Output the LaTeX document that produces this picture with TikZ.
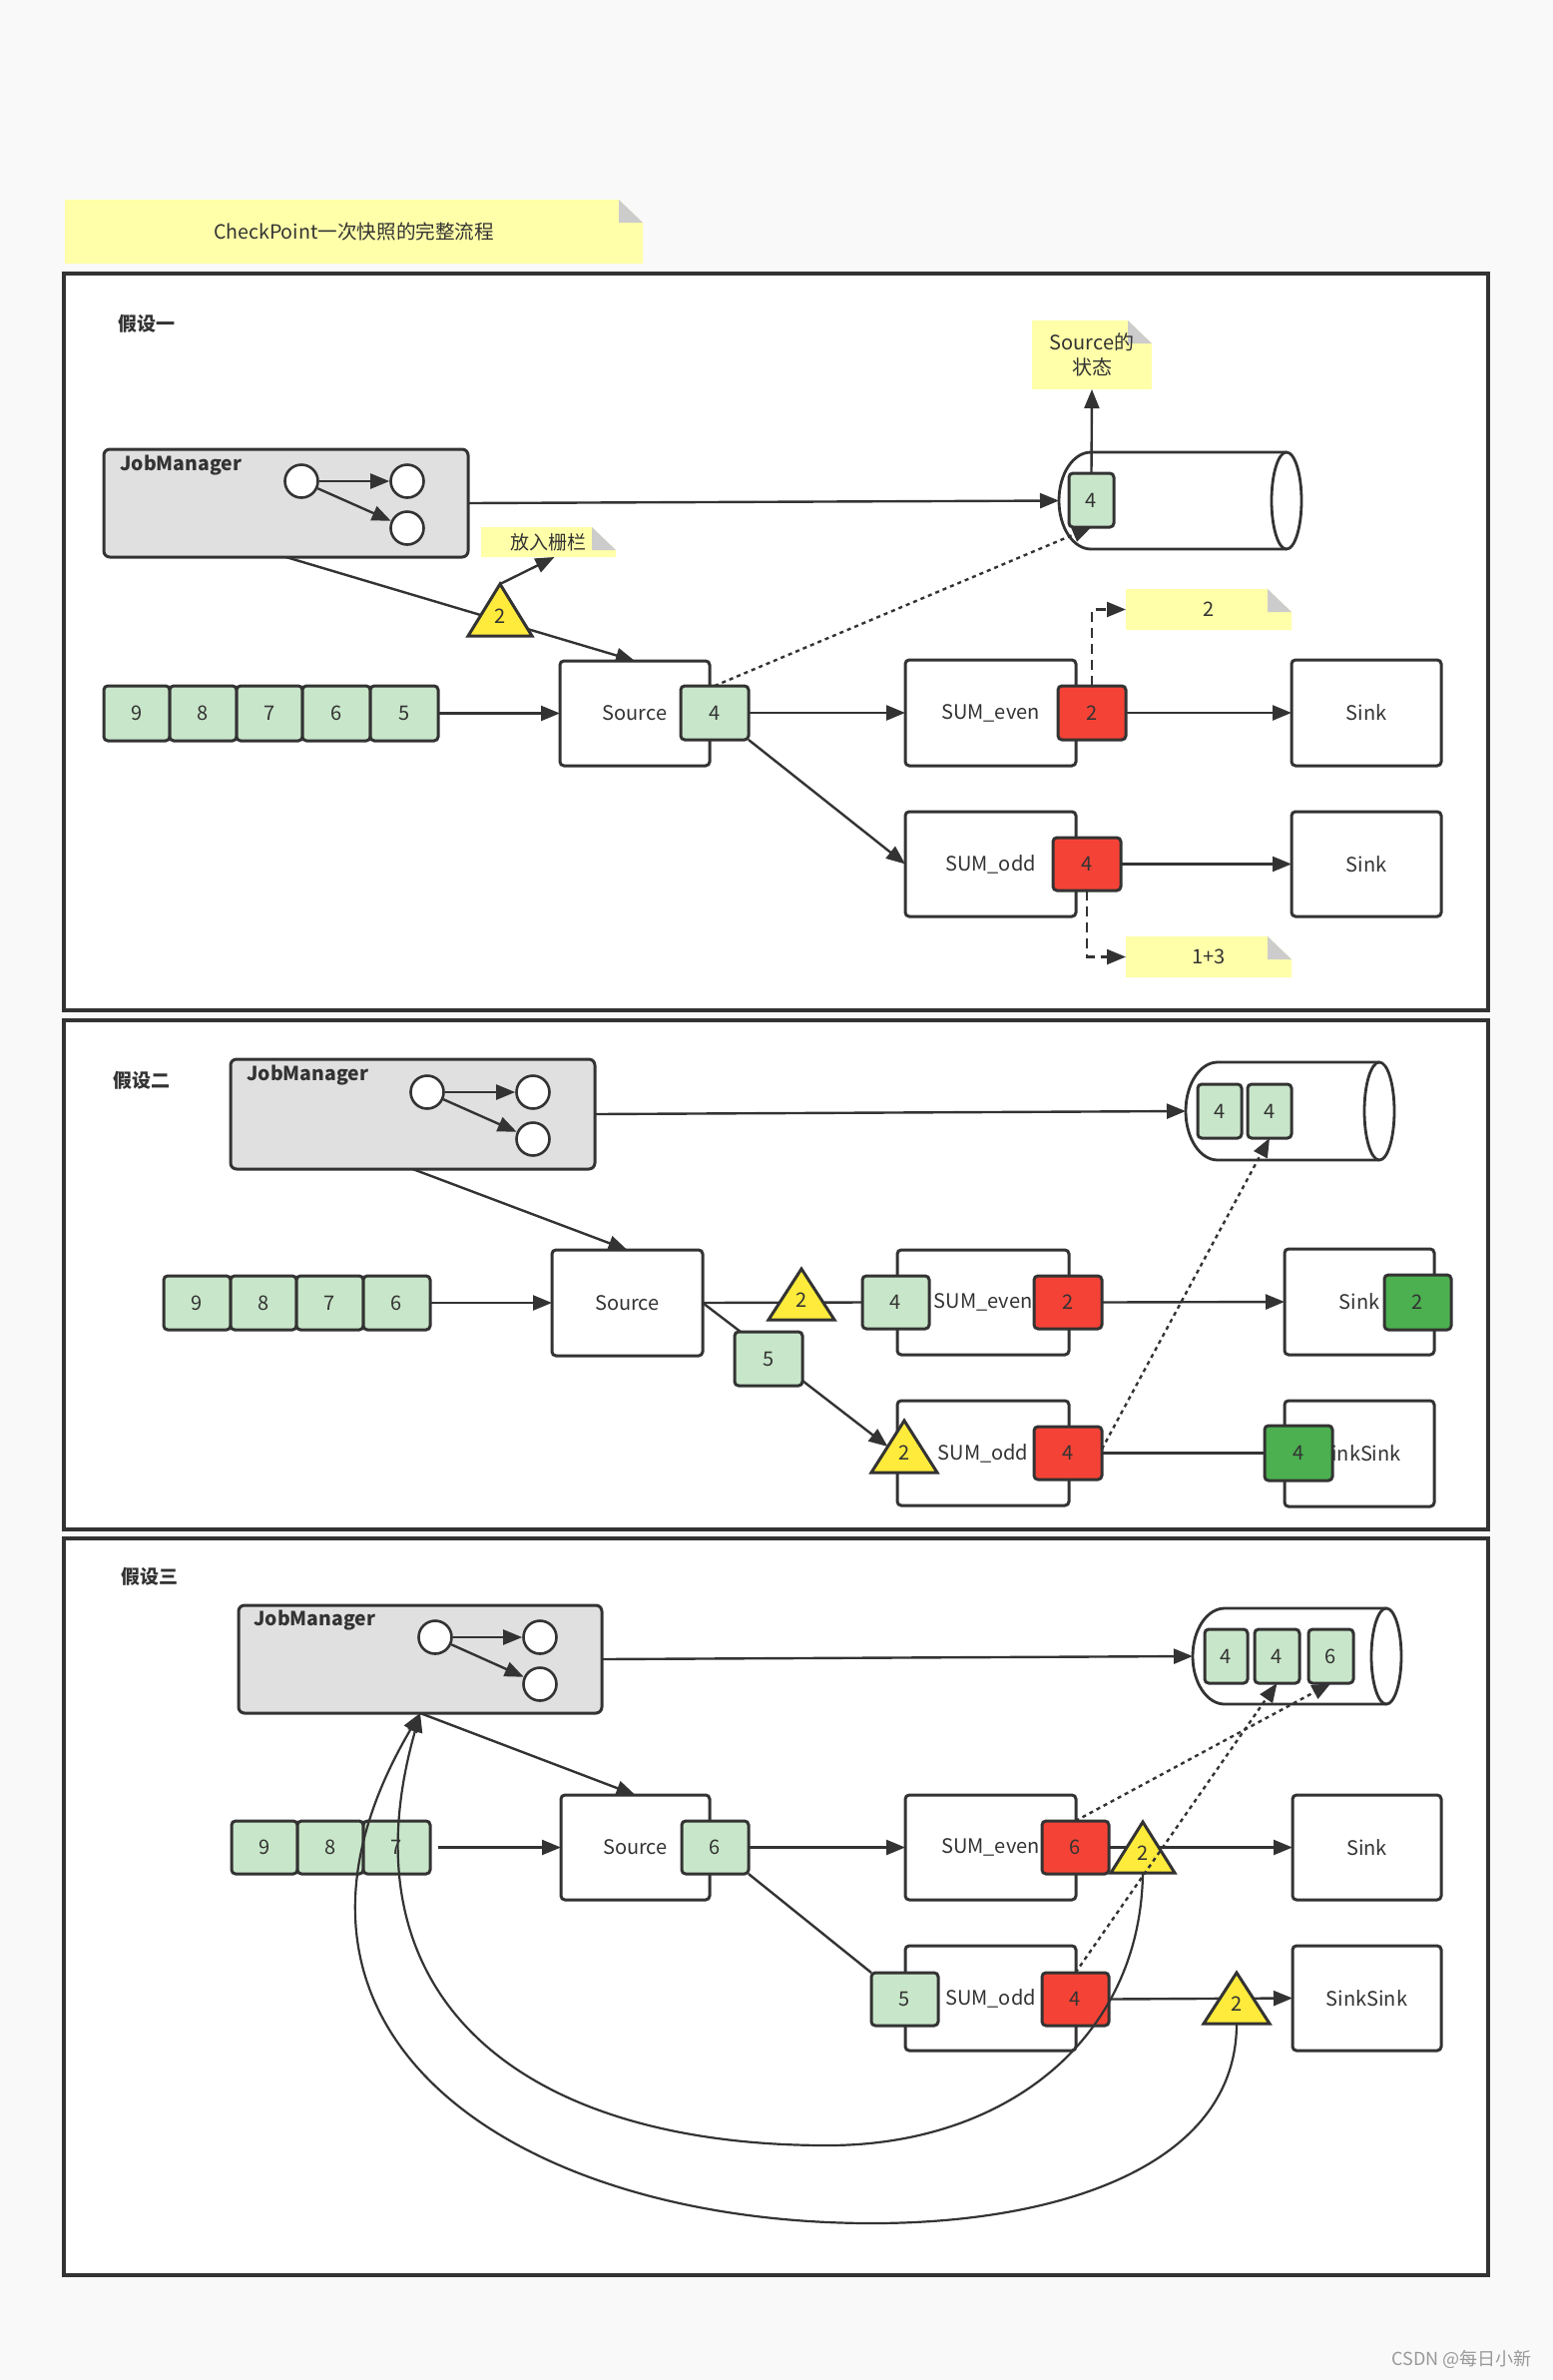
\documentclass[tikz,border=0pt]{standalone}
\usepackage{fontspec}
\setmainfont{Noto Sans CJK SC}
\usetikzlibrary{arrows.meta,calc}
\definecolor{linec}{HTML}{333333}
\definecolor{bgc}{HTML}{F9F9F9}
\definecolor{notey}{HTML}{FFFFAA}
\definecolor{foldg}{HTML}{CCCCCC}
\definecolor{lgreen}{HTML}{C8E6C9}
\definecolor{redc}{HTML}{F44336}
\definecolor{dgreen}{HTML}{4CAF50}
\definecolor{triy}{HTML}{FFEB3B}
\definecolor{jmgray}{HTML}{E0E0E0}
\definecolor{wmgray}{HTML}{999999}
\pgfdeclarelayer{back}
\pgfdeclarelayer{lines}
\pgfdeclarelayer{front}
\pgfsetlayers{back,lines,main,front}
\newcommand\boxat[7]{\node[#1, minimum width={(#5-#3)*0.5pt}, minimum height={(#6-#4)*0.5pt}] (#2) at ({(#3+#5)/2},{(#4+#6)/2}) {#7};}
\newcommand\notebox[7][]{%
 \fill[notey] (#3,#4) -- ({#5-24},#4) -- (#5,{#4+23}) -- (#5,#6) -- (#3,#6) -- cycle;
 \fill[foldg] ({#5-24},#4) -- (#5,{#4+23}) -- ({#5-24},{#4+23}) -- cycle;
 \node[inner sep=0pt, outer sep=0pt, minimum width={(#5-#3)*0.5pt}, minimum height={(#6-#4)*0.5pt}, align=center, #1] (#2) at ({(#3+#5)/2},{(#4+#6)/2}) {#7};}
\newcommand\tri[6]{%
 \node[minimum width=#5pt, minimum height={(#4-#3)*0.5pt}, inner sep=0pt, outer sep=0pt] (#1) at (#2,{(#3+#4)/2}) {};
 \filldraw[trist] (#1.south west) -- (#1.north) -- (#1.south east) -- cycle;
 \node (#1l) at ($(#1.center)+(0,6)$) {#6};}
\newcommand\cyl[5]{%
 \path[draw=linec, line width=1.4pt, fill=white] (#3,#4) -- ({#2+32},#4) arc[start angle=90, end angle=270, x radius=16pt, y radius={(#5-#4)*0.25pt}] -- (#3,#5);
 \path[draw=linec, line width=1.4pt, fill=white] (#3,{(#4+#5)/2}) ellipse [x radius=7.5pt, y radius={(#5-#4)*0.25pt}];
 \coordinate (#1) at (#2,{(#4+#5)/2});}
\tikzset{
 every node/.style={text=linec, font=\fontsize{10}{12}\selectfont},
 base/.style={draw=linec, line width=1.5pt, rounded corners=2pt, inner sep=0pt, outer sep=0pt},
 proc/.style={base, fill=white},
 gbox/.style={base, fill=lgreen},
 rbox/.style={base, fill=redc},
 dgbox/.style={base, fill=dgreen},
 jm/.style={base, fill=jmgray, rounded corners=3pt},
 jmt/.style={anchor=base west, inner sep=0pt, font=\bfseries\fontsize{9.7}{12}\selectfont},
 circ/.style={circle, draw=linec, line width=1.3pt, fill=white, minimum size=16.5pt, inner sep=0pt},
 conn/.style={draw=linec, line width=1.2pt, -{Triangle[length=9.5pt,width=7.5pt]}},
 plain/.style={draw=linec, line width=1.2pt},
 dots/.style={conn, dash pattern=on 2pt off 2pt},
 dashedc/.style={conn, dash pattern=on 5pt off 3pt},
 curve/.style={conn, line width=1.1pt},
 panel/.style={draw=linec, line width=1.6pt, fill=white},
 trist/.style={draw=linec, line width=1.5pt, fill=triy, line join=miter},
 lbl/.style={font=\bfseries\fontsize{9.5}{11}\selectfont},
}
\begin{document}
\begin{tikzpicture}[x=0.5pt, y=-0.5pt]
\useasboundingbox (0,0) rectangle (1556,2384);
\begin{pgfonlayer}{back}
\fill[bgc] (0,0) rectangle (1556,2384);
\draw[panel] (64,274) rectangle (1491,1012);
\draw[panel] (64,1022) rectangle (1491,1532);
\draw[panel] (64,1541) rectangle (1491,2279);
\end{pgfonlayer}

% title
\notebox[font=\fontsize{9.8}{12}\selectfont]{title}{65}{200}{644}{264}{CheckPoint一次快照的完整流程}

% ================= panel 1 =================
\node[lbl] (p1l) at (147,324) {假设一};
\boxat{jm}{jm1}{104}{450}{469}{558}{}
\node[jmt] (jm1t) at (120,471) {JobManager};
\node[circ] (c11) at (302,482) {};
\node[circ] (c12) at (408,482) {};
\node[circ] (c13) at (408,529) {};
\draw[conn] (c11) -- (c12);
\draw[conn] (c11) -- (c13);
\boxat{gbox}{q19}{104}{687}{170}{742}{9}
\boxat{gbox}{q18}{170}{687}{237}{742}{8}
\boxat{gbox}{q17}{237}{687}{303}{742}{7}
\boxat{gbox}{q16}{303}{687}{371}{742}{6}
\boxat{gbox}{q15}{371}{687}{439}{742}{5}
\boxat{proc}{src1}{561}{662}{711}{767}{Source}
\boxat{gbox}{s1g}{682}{687}{750}{741}{4}
\tri{t1}{501}{585}{637}{32}{2}
\notebox[font=\fontsize{9.5}{11}\selectfont]{n1}{482}{528}{617}{558}{放入栅栏}
\boxat{proc}{se1}{907}{661}{1078}{767}{SUM\_even}
\boxat{rbox}{se1r}{1060}{687}{1128}{741}{2}
\boxat{proc}{sk1a}{1294}{661}{1444}{767}{Sink}
\boxat{proc}{so1}{907}{813}{1078}{918}{SUM\_odd}
\boxat{rbox}{so1r}{1055}{839}{1123}{892}{4}
\boxat{proc}{sk1b}{1294}{813}{1444}{918}{Sink}
\notebox{n2}{1128}{590}{1294}{631}{2}
\notebox{n3}{1128}{938}{1294}{979}{1+3}
\cyl{cy1}{1061}{1289}{453}{550}
\boxat{gbox}{cb1}{1071}{474}{1116}{528}{4}
\notebox[font=\fontsize{10}{12.3}\selectfont]{n4}{1034}{321}{1154}{390}{Source的\\状态}
\begin{pgfonlayer}{lines}
\draw[conn] (jm1.south) -- (src1.north);
\draw[conn] (q15.east) -- (src1.west);
\draw[conn] (jm1.east) -- (cy1);
\draw[conn] (s1g.east) -- (se1.west);
\draw[conn] (s1g.south east) -- (so1.west);
\draw[conn] (se1r.east) -- (sk1a.west);
\draw[conn] (so1r.east) -- (sk1b.west);
\end{pgfonlayer}
\begin{pgfonlayer}{front}
\draw[conn] (t1.north) -- ($(n1.south)+(6,0)$);
\draw[conn] (cb1.north) -- (n4.south);
\draw[dots] (s1g.north) -- (cb1.south);
\draw[dashedc] (se1r.north) |- (n2.west);
\draw[dashedc] (so1r.south) |- (n3.west);
\end{pgfonlayer}

% ================= panel 2 =================
\node[lbl] (p2l) at (142,1082) {假设二};
\boxat{jm}{jm2}{231}{1061}{596}{1171}{}
\node[jmt] (jm2t) at (247,1082) {JobManager};
\node[circ] (c21) at (428,1094) {};
\node[circ] (c22) at (534,1094) {};
\node[circ] (c23) at (534,1141) {};
\draw[conn] (c21) -- (c22);
\draw[conn] (c21) -- (c23);
\boxat{gbox}{q29}{164}{1278}{231}{1332}{9}
\boxat{gbox}{q28}{231}{1278}{297}{1332}{8}
\boxat{gbox}{q27}{297}{1278}{364}{1332}{7}
\boxat{gbox}{q26}{364}{1278}{431}{1332}{6}
\boxat{proc}{src2}{553}{1252}{704}{1358}{Source}
\tri{t2}{803}{1271}{1322}{33}{2}
\boxat{proc}{se2}{899}{1252}{1071}{1357}{SUM\_even}
\boxat{gbox}{se2g}{864}{1278}{931}{1331}{4}
\boxat{rbox}{se2r}{1036}{1278}{1104}{1331}{2}
\boxat{gbox}{g25}{736}{1334}{804}{1388}{5}
\boxat{proc}{so2}{899}{1403}{1071}{1508}{SUM\_odd}
\tri{t3}{906}{1423}{1475}{33}{2}
\boxat{rbox}{so2r}{1036}{1429}{1104}{1482}{4}
\boxat{proc}{sk2a}{1287}{1251}{1437}{1357}{Sink}
\boxat{dgbox}{sk2ag}{1387}{1277}{1454}{1332}{2}
\boxat{proc}{sk2b}{1287}{1403}{1437}{1509}{}
\node[anchor=west, inner sep=0pt] (sk2bt) at (1322,1456) {SinkSink};
\boxat{dgbox}{sk2bg}{1267}{1428}{1335}{1483}{4}
\cyl{cy2}{1188}{1382}{1064}{1162}
\boxat{gbox}{cb2a}{1200}{1086}{1244}{1140}{4}
\boxat{gbox}{cb2b}{1250}{1086}{1294}{1140}{4}
\coordinate (t3w) at ($(t3.north)!0.5!(t3.south west)$);
\begin{pgfonlayer}{lines}
\draw[conn] (jm2.south) -- (src2.north);
\draw[conn] (q26.east) -- (src2.west);
\draw[conn] (jm2.east) -- (cy2);
\draw[plain] (src2.east) -- (se2g.west);
\draw[plain] (src2.east) -- ($(g25.north west)+(6,0)$);
\draw[conn] ($(g25.south east)+(0,-5)$) -- (t3w);
\draw[conn] (se2r.east) -- (sk2a.west);
\draw[plain] (so2r.east) -- (sk2bg.west);
\end{pgfonlayer}
\begin{pgfonlayer}{front}
\draw[dots] ($(so2r.east)+(0,-4)$) -- (cb2b.south);
\end{pgfonlayer}

% ================= panel 3 =================
\node[lbl] (p3l) at (150,1579) {假设三};
\boxat{jm}{jm3}{239}{1608}{603}{1716}{}
\node[jmt] (jm3t) at (254,1628) {JobManager};
\node[circ] (c31) at (436,1640) {};
\node[circ] (c32) at (541,1640) {};
\node[circ] (c33) at (541,1687) {};
\draw[conn] (c31) -- (c32);
\draw[conn] (c31) -- (c33);
\boxat{gbox}{q39}{232}{1824}{298}{1877}{9}
\boxat{gbox}{q38}{298}{1824}{364}{1877}{8}
\boxat{gbox}{q37}{364}{1824}{431}{1877}{7}
\boxat{proc}{src3}{562}{1798}{711}{1903}{Source}
\boxat{gbox}{s3g}{683}{1824}{750}{1877}{6}
\boxat{proc}{se3}{907}{1798}{1078}{1903}{SUM\_even}
\boxat{rbox}{se3r}{1044}{1824}{1111}{1877}{6}
\tri{t4}{1145}{1825}{1876}{32}{2}
\boxat{proc}{sk3a}{1295}{1798}{1444}{1903}{Sink}
\boxat{proc}{so3}{907}{1949}{1078}{2054}{SUM\_odd}
\boxat{gbox}{g35}{873}{1976}{940}{2029}{5}
\boxat{rbox}{so3r}{1044}{1976}{1111}{2029}{4}
\tri{t5}{1239}{1976}{2027}{33}{2}
\boxat{proc}{sk3b}{1295}{1949}{1444}{2054}{SinkSink}
\cyl{cy3}{1195}{1389}{1611}{1707}
\boxat{gbox}{cb3a}{1207}{1632}{1250}{1686}{4}
\boxat{gbox}{cb3b}{1257}{1632}{1302}{1686}{4}
\boxat{gbox}{cb3c}{1311}{1632}{1356}{1686}{6}
\begin{pgfonlayer}{lines}
\draw[conn] (jm3.south) -- (src3.north);
\draw[conn, shorten <=4pt] (q37.east) -- (src3.west);
\draw[conn] (jm3.east) -- (cy3);
\draw[conn] (s3g.east) -- (se3.west);
\draw[plain] (s3g.south east) -- (g35.north west);
\draw[conn] (se3r.east) -- (sk3a.west);
\draw[conn] (so3r.east) -- (sk3b.west);
\end{pgfonlayer}
\begin{pgfonlayer}{front}
\draw[dots] (se3r.north) -- (cb3c.south);
\draw[dots] (so3r.north) -- (cb3b.south);
\draw[curve] (t4.south) .. controls (1143,2040) and (1010,2149) .. (829,2149) .. controls (520,2149) and (340,2000) .. (jm3.south);
\draw[curve] (t5.south) .. controls (1239,2170) and (1060,2227) .. (874,2227) .. controls (520,2227) and (230,2040) .. (jm3.south);
\end{pgfonlayer}

\node[font=\fontsize{9}{10}\selectfont, text=wmgray, anchor=east] (wm) at (1542,2363) {CSDN @每日小新};
\end{tikzpicture}
\end{document}
